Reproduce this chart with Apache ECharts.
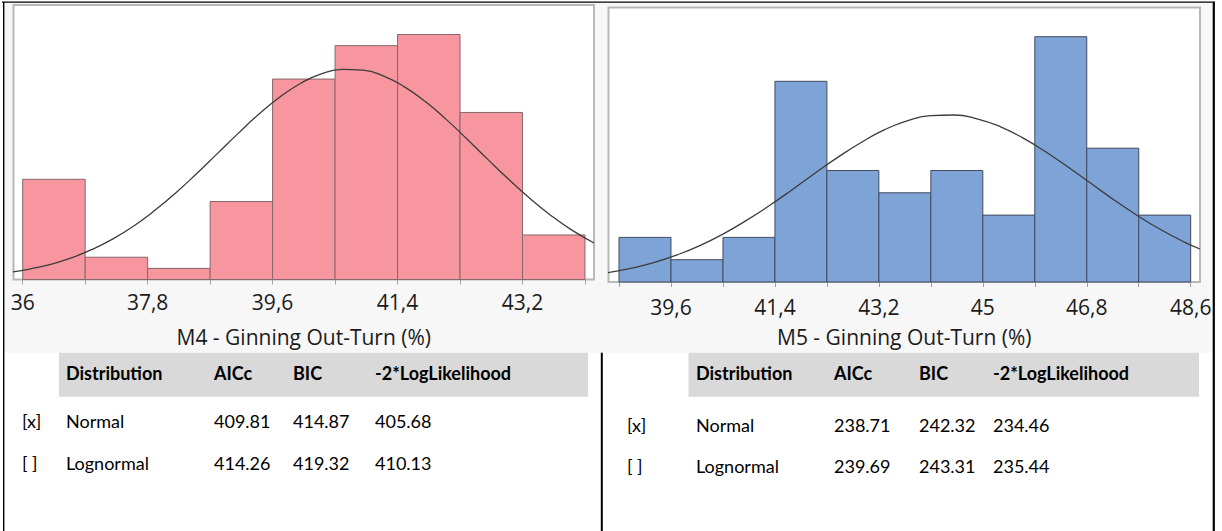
<!DOCTYPE html>
<html>
<head>
<meta charset="utf-8">
<script src="https://cdn.jsdelivr.net/npm/echarts@6.0.0/dist/echarts.min.js"></script>
<style>
  html, body { margin: 0; padding: 0; background: #ffffff; }
  #chart { width: 1222px; height: 531px; }
</style>
</head>
<body>
<div id="chart"></div>
<script>
// ---------------- DATA ----------------
const binWidth = 0.9;

const m4BinStarts = [36, 36.9, 37.8, 38.7, 39.6, 40.5, 41.4, 42.3, 43.2];
const m4Counts    = [9, 2, 1, 7, 18, 21, 22, 15, 4];
const m4TickValues  = [36, 36.9, 37.8, 38.7, 39.6, 40.5, 41.4, 42.3, 43.2, 44.1];
const m4LabelValues = [36, 37.8, 39.6, 41.4, 43.2];
const m4AxisTitle = 'M4 - Ginning Out-Turn (%)';
const m4CurveX = [35.86, 36.1, 36.4, 36.7, 37.0, 37.3, 37.6, 37.9, 38.2, 38.5, 38.8, 39.1, 39.4, 39.7, 40.0, 40.3, 40.6, 40.9, 41.2, 41.5, 41.8, 42.1, 42.4, 42.7, 43.0, 43.3, 43.6, 43.9, 44.23];
const m4CurveY = [0.68, 0.94, 1.36, 1.94, 2.70, 3.65, 4.81, 6.19, 7.75, 9.47, 11.28, 13.10, 14.83, 16.36, 17.60, 18.46, 18.87, 18.80, 18.27, 17.30, 15.98, 14.38, 12.62, 10.79, 9.00, 7.32, 5.80, 4.48, 3.28];

const m5BinStarts = [38.7, 39.6, 40.5, 41.4, 42.3, 43.2, 44.1, 45, 45.9, 46.8, 47.7];
const m5Counts    = [2, 1, 2, 9, 5, 4, 5, 3, 11, 6, 3];
const m5TickValues  = [38.7, 39.6, 40.5, 41.4, 42.3, 43.2, 44.1, 45, 45.9, 46.8, 47.7, 48.6];
const m5LabelValues = [39.6, 41.4, 43.2, 45, 46.8, 48.6];
const m5AxisTitle = 'M5 - Ginning Out-Turn (%)';
const m5CurveX = [38.51, 38.9, 39.3, 39.7, 40.1, 40.5, 40.9, 41.3, 41.7, 42.1, 42.5, 42.9, 43.3, 43.7, 44.1, 44.5, 44.9, 45.3, 45.7, 46.1, 46.5, 46.9, 47.3, 47.7, 48.1, 48.5, 48.76];
const m5CurveY = [0.42, 0.61, 0.87, 1.21, 1.63, 2.15, 2.75, 3.42, 4.14, 4.89, 5.61, 6.27, 6.83, 7.24, 7.46, 7.49, 7.32, 6.97, 6.45, 5.82, 5.11, 4.37, 3.63, 2.94, 2.32, 1.78, 1.48];

const tableHeader = ['Distribution', 'AICc', 'BIC', '-2*LogLikelihood'];
const m4Marks = ['[x]', '[ ]'];
const m4Dists = ['Normal', 'Lognormal'];
const m4AICc  = ['409.81', '414.26'];
const m4BIC   = ['414.87', '419.32'];
const m4LL    = ['405.68', '410.13'];
const m5Marks = ['[x]', '[ ]'];
const m5Dists = ['Normal', 'Lognormal'];
const m5AICc  = ['238.71', '239.69'];
const m5BIC   = ['242.32', '243.31'];
const m5LL    = ['234.46', '235.44'];

// ---------------- BUILD ----------------
const AXIS_FONT = 'Open Sans';
const TABLE_FONT = 'Lato';
const labelColor = '#1b1b1b';

function histData(starts, counts) {
  return starts.map((s, i) => [s, s + binWidth, counts[i]]);
}
function pairs(xs, ys) { return xs.map((x, i) => [x, ys[i]]); }
const fmt = v => String(v).replace('.', ',');

function histSeries(idx, data, fill, stroke) {
  return {
    type: 'custom',
    xAxisIndex: idx, yAxisIndex: idx,
    data: data,
    encode: { x: [0, 1], y: 2 },
    renderItem: function (params, api) {
      const p0 = api.coord([api.value(0), api.value(2)]);
      const p1 = api.coord([api.value(1), 0]);
      return {
        type: 'rect',
        shape: { x: p0[0], y: p0[1], width: p1[0] - p0[0], height: p1[1] - p0[1] },
        style: { fill: fill, stroke: stroke, lineWidth: 1 }
      };
    },
    z: 2
  };
}
function curveSeries(idx, data) {
  return {
    type: 'line', xAxisIndex: idx, yAxisIndex: idx,
    data: data, smooth: true, showSymbol: false, symbol: 'none',
    lineStyle: { color: '#3c3c3c', width: 1.3 },
    clip: true, z: 5
  };
}
function xAxis(idx, min, max, ticks, labels, title, margin, nameGap) {
  return {
    type: 'value', gridIndex: idx, min: min, max: max,
    axisLine: { show: false },
    splitLine: { show: false },
    axisTick: { show: true, length: 5, lineStyle: { color: '#a0a0a0', width: 1 }, customValues: ticks },
    axisLabel: { customValues: labels, formatter: fmt, fontSize: 21, fontFamily: AXIS_FONT, color: labelColor, margin: margin, hideOverlap: false },
    name: title, nameLocation: 'middle', nameGap: nameGap,
    nameTextStyle: { fontSize: 21, fontFamily: AXIS_FONT, color: labelColor }
  };
}

const graphics = [];
// chart strip background
graphics.push({ type: 'rect', z: -100, shape: { x: 4.5, y: 3, width: 1208.5, height: 349.7 }, style: { fill: '#f7f7f7' }, silent: true });
// header bands
graphics.push({ type: 'rect', z: -50, shape: { x: 59, y: 352.7, width: 529, height: 44 }, style: { fill: '#d9d9d9' }, silent: true });
graphics.push({ type: 'rect', z: -50, shape: { x: 688.5, y: 352.7, width: 510.5, height: 44 }, style: { fill: '#d9d9d9' }, silent: true });
// black borders
graphics.push({ type: 'line', z: 100, shape: { x1: 2, y1: 2.2, x2: 1215, y2: 2.2 }, style: { stroke: '#000', lineWidth: 1.2 }, silent: true });
graphics.push({ type: 'line', z: 100, shape: { x1: 3.7, y1: 2, x2: 3.7, y2: 531 }, style: { stroke: '#000', lineWidth: 1.4 }, silent: true });
graphics.push({ type: 'line', z: 100, shape: { x1: 1213.8, y1: 2, x2: 1213.8, y2: 531 }, style: { stroke: '#000', lineWidth: 2.2 }, silent: true });
graphics.push({ type: 'line', z: 100, shape: { x1: 601.8, y1: 352.7, x2: 601.8, y2: 531 }, style: { stroke: '#000', lineWidth: 2 }, silent: true });

function addText(text, x, y, bold) {
  graphics.push({
    type: 'text', x: x, y: y, z: 50,
    style: { text: text, fill: '#000', font: (bold ? 'bold ' : '') + '18px ' + TABLE_FONT, textVerticalAlign: 'middle', verticalAlign: 'middle', textAlign: 'left', align: 'left' }
  });
}
function addTable(markX, colX, headerY, rowY, marks, dists, aicc, bic, ll) {
  tableHeader.forEach((h, i) => addText(h, colX[i], headerY, true));
  marks.forEach((m, r) => {
    addText(m, markX, rowY[r], false);
    addText(dists[r], colX[0], rowY[r], false);
    addText(aicc[r], colX[1], rowY[r], false);
    addText(bic[r], colX[2], rowY[r], false);
    addText(ll[r], colX[3], rowY[r], false);
  });
}
addTable(22, [66, 214, 293, 375], 373, [420.7, 463], m4Marks, m4Dists, m4AICc, m4BIC, m4LL);
addTable(627, [696, 834, 919, 993], 373, [425, 466], m5Marks, m5Dists, m5AICc, m5BIC, m5LL);

const option = {
  animation: false,
  backgroundColor: 'transparent',
  grid: [
    { left: 13.5, top: 5, width: 580.5, height: 274.5, show: true, backgroundColor: '#ffffff', borderColor: '#b8b8b8', borderWidth: 2, outerBoundsMode: 'none', containLabel: false },
    { left: 608.5, top: 7.5, width: 591.5, height: 274.5, show: true, backgroundColor: '#ffffff', borderColor: '#b8b8b8', borderWidth: 2, outerBoundsMode: 'none', containLabel: false }
  ],
  xAxis: [
    xAxis(0, 35.8675, 44.23, m4TickValues, m4LabelValues, m4AxisTitle, 12, 46.5),
    xAxis(1, 38.518, 48.761, m5TickValues, m5LabelValues, m5AxisTitle, 14.5, 44)
  ],
  yAxis: [
    { type: 'value', gridIndex: 0, min: 0, max: 24.65, show: false, splitLine: { show: false } },
    { type: 'value', gridIndex: 1, min: 0, max: 12.31, show: false, splitLine: { show: false } }
  ],
  series: [
    histSeries(0, histData(m4BinStarts, m4Counts), '#f7969f', '#86676b'),
    curveSeries(0, pairs(m4CurveX, m4CurveY)),
    histSeries(1, histData(m5BinStarts, m5Counts), '#7ea3d6', '#434b5e'),
    curveSeries(1, pairs(m5CurveX, m5CurveY))
  ],
  graphic: { elements: graphics }
};

const chart = echarts.init(document.getElementById('chart'), null, { renderer: 'svg', width: 1222, height: 531 });
chart.setOption(option);
</script>
</body>
</html>
